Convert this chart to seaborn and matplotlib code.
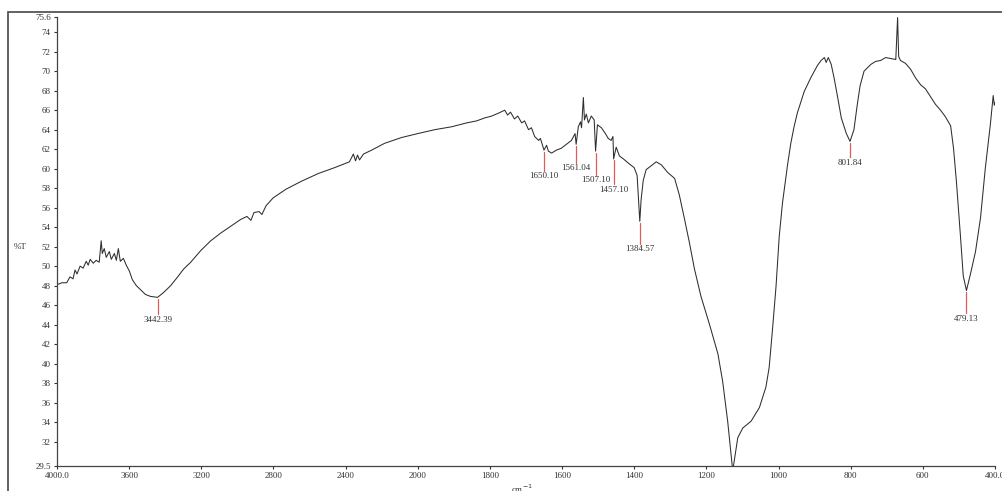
import numpy as np
import pandas as pd
import matplotlib
matplotlib.use("Agg")
import matplotlib.pyplot as plt
from matplotlib.patches import Rectangle
from matplotlib.ticker import FixedLocator, FixedFormatter, NullLocator
import seaborn as sns

# ---------------- data ----------------
wavenumber = [
    4000, 3972, 3946, 3928, 3911, 3900, 3889, 3872, 3855, 3838,
    3827, 3816, 3799, 3783, 3766, 3755, 3749, 3738, 3727, 3710,
    3699, 3682, 3671, 3660, 3649, 3632, 3616, 3599, 3582, 3560,
    3538, 3510, 3482, 3442.39, 3409, 3370, 3331, 3298, 3259, 3203,
    3148, 3092, 3036, 2981, 2947, 2925, 2908, 2880, 2864, 2841,
    2802, 2730, 2646, 2552, 2462, 2379, 2357, 2345, 2334, 2323,
    2301, 2256, 2184, 2089, 2000, 1953, 1906, 1864, 1837, 1815,
    1795, 1776, 1759, 1751, 1743, 1732, 1723, 1712, 1704, 1693,
    1685, 1676, 1665, 1660, 1650.10, 1643, 1638, 1629, 1616, 1602,
    1588, 1574, 1564, 1561.04, 1555, 1549, 1546, 1541, 1538, 1533,
    1527, 1519, 1511, 1507.10, 1502, 1491, 1480, 1472, 1464, 1459,
    1457.10, 1450, 1441, 1430, 1414, 1400, 1392, 1384.57, 1381, 1375,
    1367, 1353, 1339, 1325, 1307, 1288, 1275, 1261, 1247, 1233,
    1215, 1192, 1168, 1155, 1141, 1127, 1113, 1099, 1076, 1053,
    1035, 1026, 1017, 1007, 998, 989, 975, 966, 957, 948,
    929, 911, 892, 882, 873, 868, 862, 854, 846, 837,
    826, 812, 801.84, 791, 782, 774, 763, 744, 731, 717,
    703, 689, 675, 670, 667, 662, 648, 634, 620, 606,
    593, 579, 565, 551, 537, 523, 515, 507, 496, 488,
    479.13, 468, 454, 440, 427, 413, 405, 402, 400,
]
transmittance = [
    48.1, 48.3, 48.3, 48.9, 48.7, 49.6, 49.2, 50.0, 49.8, 50.5,
    50.1, 50.7, 50.3, 50.6, 50.4, 52.6, 51.3, 51.8, 50.9, 51.5,
    50.7, 51.3, 50.6, 51.8, 50.5, 50.8, 50.1, 49.5, 48.6, 48.0,
    47.6, 47.1, 46.9, 46.8, 47.3, 48.0, 48.9, 49.7, 50.4, 51.6,
    52.6, 53.4, 54.1, 54.8, 55.1, 54.7, 55.5, 55.6, 55.3, 56.2,
    57.0, 57.9, 58.7, 59.5, 60.1, 60.7, 61.5, 60.8, 61.4, 60.9,
    61.5, 61.9, 62.6, 63.2, 63.6, 64.0, 64.3, 64.7, 64.9, 65.2,
    65.4, 65.7, 66.0, 65.5, 65.8, 65.1, 65.4, 64.7, 64.9, 64.0,
    64.2, 63.3, 62.9, 63.1, 61.9, 62.4, 61.8, 61.6, 61.9, 62.1,
    62.5, 62.9, 63.6, 62.5, 64.3, 64.8, 64.2, 67.3, 65.0, 65.6,
    64.7, 65.4, 65.0, 61.8, 64.5, 64.2, 63.6, 63.1, 62.9, 63.3,
    61.0, 62.2, 61.3, 61.0, 60.5, 60.1, 59.3, 54.6, 56.8, 58.8,
    59.9, 60.3, 60.7, 60.4, 59.6, 59.0, 57.3, 54.9, 52.4, 49.7,
    46.9, 44.1, 41.0, 38.2, 34.1, 29.0, 32.4, 33.4, 34.1, 35.5,
    37.6, 39.6, 43.4, 47.9, 53.1, 56.5, 60.4, 62.6, 64.3, 65.7,
    67.9, 69.3, 70.6, 71.1, 71.4, 70.9, 71.4, 70.7, 69.3, 67.5,
    65.2, 63.6, 62.8, 64.0, 66.5, 68.5, 70.0, 70.7, 71.0, 71.1,
    71.4, 71.3, 71.2, 75.5, 71.5, 71.1, 70.8, 70.2, 69.3, 68.6,
    68.2, 67.4, 66.6, 66.0, 65.3, 64.4, 62.1, 58.7, 53.2, 49.0,
    47.5, 49.2, 51.5, 55.0, 60.0, 64.5, 67.5, 66.5, 66.8,
]
assert len(wavenumber) == len(transmittance)

peak_wn = [3442.39, 1650.10, 1561.04, 1507.10, 1457.10, 1384.57, 801.84, 479.13]
peak_t = [46.8, 61.9, 62.5, 61.8, 61.0, 54.6, 62.8, 47.5]
peak_labels = ["3442.39", "1650.10", "1561.04", "1507.10", "1457.10",
               "1384.57", "801.84", "479.13"]
marker_len = [1.7, 2.1, 1.9, 2.4, 2.6, 2.3, 1.6, 2.3]   # style: red tick length

x_ticks = [4000, 3600, 3200, 2800, 2400, 2000, 1800, 1600, 1400, 1200, 1000, 800, 600, 400]
x_ticklabels = ["4000.0", "3600", "3200", "2800", "2400", "2000", "1800", "1600",
                "1400", "1200", "1000", "800", "600", "400.0"]
y_ticks = [29.5] + list(range(32, 75, 2)) + [75.6]
y_ticklabels = ["29.5"] + [str(v) for v in range(32, 75, 2)] + ["75.6"]

# ---------------- style ----------------
sns.set_style("ticks")
plt.rcParams["font.family"] = ["Liberation Serif", "DejaVu Serif"]

fig = plt.figure(figsize=(10.03, 4.91), dpi=100)
ax = fig.add_axes([57 / 1003, 25 / 491, (995 - 57) / 1003, (466 - 16.6) / 491])

df = pd.DataFrame({"wn": wavenumber, "T": transmittance})
sns.lineplot(data=df, x="wn", y="T", sort=False, estimator=None,
             color="#2e2e2e", linewidth=0.75, ax=ax)

# compressed scale above 2000 cm-1 (half scale)
def fwd(x):
    x = np.asarray(x, dtype=float)
    return np.where(x <= 2000, x, 2000 + (x - 2000) * 0.5)

def inv(y):
    y = np.asarray(y, dtype=float)
    return np.where(y <= 2000, y, 2000 + (y - 2000) * 2.0)

ax.set_xscale("function", functions=(fwd, inv))
ax.set_xlim(4000, 400)
ax.set_ylim(29.5, 75.6)

# peak markers
for w, t, lab, ln in zip(peak_wn, peak_t, peak_labels, marker_len):
    ax.plot([w, w], [t - 0.15, t - ln], color="#e05a5a", linewidth=0.9, zorder=3)
    ax.annotate(lab, xy=(w, t - ln), xytext=(0, -1.2), textcoords="offset points",
                ha="center", va="top", fontsize=6.5, color="#333333")

ax.xaxis.set_major_locator(FixedLocator(x_ticks))
ax.xaxis.set_major_formatter(FixedFormatter(x_ticklabels))
ax.xaxis.set_minor_locator(NullLocator())
ax.yaxis.set_major_locator(FixedLocator(y_ticks))
ax.yaxis.set_major_formatter(FixedFormatter(y_ticklabels))
ax.yaxis.set_minor_locator(NullLocator())
ax.tick_params(axis="both", labelsize=6.5, length=2.5, width=0.8, pad=2,
               colors="#333333", direction="out")
ax.set_xlabel("")
ax.set_ylabel("")
for s in ["top", "right"]:
    ax.spines[s].set_visible(False)
for s in ["left", "bottom"]:
    ax.spines[s].set_color("#444444")
    ax.spines[s].set_linewidth(0.9)

fig.text(20 / 1003, 1 - 247 / 491, "%T", fontsize=6.5, color="#333333",
         ha="center", va="center")
fig.text(522 / 1003, 1 - 483 / 491, "cm$^{-1}$", fontsize=6.5, color="#333333",
         ha="center", va="top")

# outer frame
fig.patches.append(Rectangle((8 / 1003, -0.05), 1.1, 1 - 12 / 491 + 0.05,
                             transform=fig.transFigure, fill=False,
                             edgecolor="#555555", linewidth=1.3))

fig.savefig("out.png", dpi=100)
